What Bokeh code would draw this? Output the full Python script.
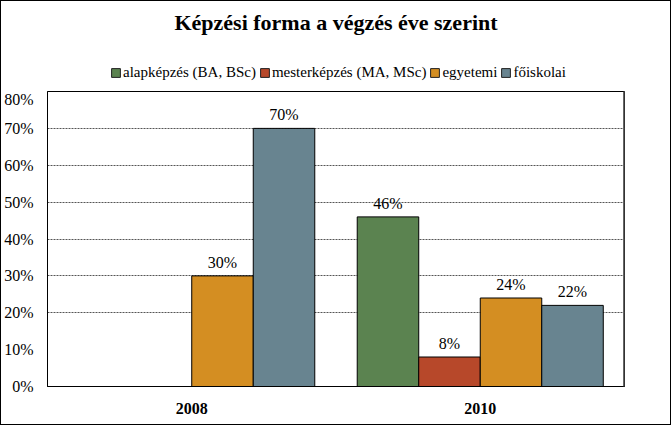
import math
from bokeh.plotting import figure
from bokeh.layouts import column
from bokeh.core.properties import value
from bokeh.models import (ColumnDataSource, FactorRange, Legend, LegendItem, LabelSet, Label,
                          NumeralTickFormatter, FixedTicker, Span)
from bokeh.transform import dodge
from bokeh.embed import file_html
from bokeh.resources import INLINE

categories = ["2008", "2010"]
series_names = ["alapképzés (BA, BSc)", "mesterképzés (MA, MSc)", "egyetemi", "főiskolai"]
alapkepzes = [math.nan, 0.46]
mesterkepzes = [math.nan, 0.08]
egyetemi = [0.30, 0.24]
foiskolai = [0.70, 0.22]
y_ticks = [0, 0.1, 0.2, 0.3, 0.4, 0.5, 0.6, 0.7, 0.8]
grid_ticks = [0.2, 0.3, 0.4, 0.5, 0.6, 0.7]
title_text = "Képzési forma a végzés éve szerint"

colors = ["#5B8350", "#B7482A", "#D48E22", "#688490"]
FONT = "Liberation Serif"

# ---- header figure: title + legend ----
top = figure(frame_width=577, frame_height=89, x_range=(0, 1), y_range=(0, 1),
             output_backend="svg", toolbar_location=None,
             min_border_left=46, min_border_right=46, min_border_top=0, min_border_bottom=0)
top.axis.visible = False
top.grid.visible = False
top.outline_line_color = None
top.background_fill_color = "white"
top.border_fill_color = "white"
top.add_layout(Label(x=288.5, y=68, x_units="screen", y_units="screen", text=title_text,
                     text_align="center", text_baseline="middle",
                     text_font=FONT, text_font_size="22px", text_font_style="bold",
                     text_color="black"))

# ---- main chart ----
p = figure(x_range=FactorRange(*categories, range_padding=0), y_range=(0, 0.8),
           frame_width=577, frame_height=295, output_backend="svg", toolbar_location=None,
           min_border_left=46, min_border_right=46, min_border_top=1, min_border_bottom=38)

bw = 0.2132
offsets = [-1.5 * bw, -0.5 * bw, 0.5 * bw, 1.5 * bw]
all_vals = [alapkepzes, mesterkepzes, egyetemi, foiskolai]
items = []
for name, vals, col, off in zip(series_names, all_vals, colors, offsets):
    xs = [c for c, v in zip(categories, vals) if not math.isnan(v)]
    ys = [v for v in vals if not math.isnan(v)]
    src = ColumnDataSource(dict(x=xs, top=ys, lab=[f"{round(v * 100)}%" for v in ys]))
    p.vbar(x=dodge("x", off, range=p.x_range), top="top", width=bw, source=src,
           fill_color=col, line_color="black", line_width=1)
    p.add_layout(LabelSet(x=dodge("x", off, range=p.x_range), y="top", text="lab", source=src,
                          text_align="center", text_baseline="bottom", y_offset=5,
                          text_font=value(FONT), text_font_size=value("16px"),
                          text_color="black"))
    # legend swatch renderer in header (draws nothing itself)
    dummy = top.vbar(x=[math.nan], top=[math.nan], width=0.1, fill_color=col,
                     line_color="#222222")
    items.append(LegendItem(label=name, renderers=[dummy]))

legend = Legend(items=items, orientation="horizontal", location=(63, 9),
                glyph_width=11, glyph_height=11, label_standoff=2, spacing=3,
                padding=0, margin=0, border_line_alpha=0, background_fill_alpha=0,
                label_text_font=FONT, label_text_font_size="15px", label_text_color="black")
top.add_layout(legend)

p.add_layout(Span(location=2, dimension="height", line_color="#666666", line_width=3))

p.xgrid.visible = False
p.ygrid.ticker = FixedTicker(ticks=grid_ticks)
p.ygrid.grid_line_color = "#555555"
p.ygrid.grid_line_dash = "2 1"
p.ygrid.grid_line_width = 1

p.yaxis.ticker = FixedTicker(ticks=y_ticks)
p.yaxis.formatter = NumeralTickFormatter(format="0%")
for ax in (p.xaxis[0], p.yaxis[0]):
    ax.axis_line_color = "black"
    ax.major_tick_line_color = None
    ax.minor_tick_line_color = None
    ax.major_label_text_font = FONT
    ax.major_label_text_font_size = "16px"
    ax.major_label_text_color = "black"
p.xaxis.major_label_text_font_style = "bold"
p.xaxis.major_label_standoff = 10
p.yaxis.major_label_standoff = 8

p.outline_line_color = "black"
p.outline_line_width = 1
p.background_fill_color = "white"
p.border_fill_color = "white"

layout = column(top, p, spacing=0, styles={"border": "1px solid black"})

open("out.html", "w").write(file_html(layout, INLINE))
